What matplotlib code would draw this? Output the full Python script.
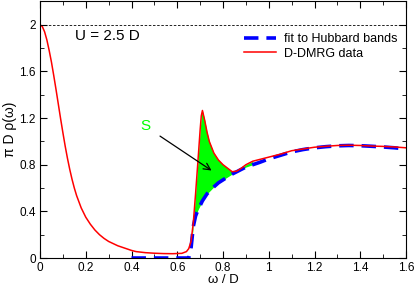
import matplotlib
matplotlib.use('Agg')
import matplotlib.pyplot as plt
import numpy as np
from matplotlib.ticker import MultipleLocator, FuncFormatter

plt.rcParams['font.family'] = ['Liberation Sans', 'DejaVu Sans']

# omega / D grid shared by both curves
omega = np.array([0.00, 0.01, 0.02, 0.03, 0.04, 0.05, 0.06, 0.07, 0.08, 0.09,
                  0.10, 0.11, 0.12, 0.13, 0.14, 0.15, 0.16, 0.18, 0.20, 0.22,
                  0.24, 0.26, 0.28, 0.30, 0.34, 0.40, 0.42, 0.46, 0.50, 0.54,
                  0.58, 0.62, 0.64, 0.65, 0.66, 0.67, 0.68, 0.69, 0.70, 0.705,
                  0.71, 0.72, 0.73, 0.74, 0.76, 0.78, 0.80, 0.82, 0.84, 0.86,
                  0.88, 0.90, 0.93, 0.96, 1.00, 1.05, 1.10, 1.15, 1.20, 1.25,
                  1.30, 1.35, 1.40, 1.45, 1.50, 1.55, 1.60])

# D-DMRG data
dmrg = np.array([2.00, 1.985, 1.94, 1.87, 1.78, 1.68, 1.565, 1.445, 1.32, 1.195,
                 1.075, 0.96, 0.855, 0.76, 0.675, 0.60, 0.535, 0.43, 0.35, 0.29,
                 0.24, 0.20, 0.168, 0.142, 0.105, 0.065, 0.055, 0.046, 0.041, 0.038,
                 0.037, 0.040, 0.055, 0.08, 0.14, 0.30, 0.55, 0.82, 1.10, 1.22,
                 1.265, 1.18, 1.08, 1.00, 0.90, 0.84, 0.80, 0.77, 0.74, 0.745,
                 0.77, 0.80, 0.83, 0.845, 0.865, 0.89, 0.92, 0.935, 0.95, 0.958,
                 0.965, 0.967, 0.965, 0.96, 0.957, 0.952, 0.945])

# fit to Hubbard bands (starts at 0.4)
fit = np.array([np.nan] * 25 +
               [0.0, 0.0, 0.0, 0.0, 0.0,
                0.0, 0.0, 0.0, 0.0, 0.08, 0.27, 0.36, 0.41, 0.45, 0.47,
                0.49, 0.52, 0.55, 0.57, 0.61, 0.645, 0.67, 0.695, 0.72, 0.74,
                0.76, 0.78, 0.80, 0.82, 0.85, 0.88, 0.91, 0.93, 0.945, 0.955,
                0.962, 0.965, 0.963, 0.958, 0.952, 0.945, 0.935])

# shaded spectral-weight region S
s_lo, s_hi = 0.655, 0.95

fig = plt.figure(figsize=(4.15, 2.87), dpi=100)
ax = fig.add_axes([0.0964, 0.101, 0.882, 0.894])

sel = (omega >= s_lo) & (omega <= s_hi)
ax.fill_between(omega[sel], fit[sel], dmrg[sel],
                where=dmrg[sel] > fit[sel], color='#00ff00', lw=0, interpolate=True)
ax.plot(omega, fit, color='blue', lw=2.6, dashes=(4, 2.2), label='fit to Hubbard bands')
ax.plot(omega, dmrg, color='red', lw=1.1, label='D-DMRG data')
ax.axhline(2.0, color='black', lw=0.6, ls=(0, (3, 2)))

ax.text(0.153, 1.9, 'U = 2.5 D', fontsize=11, va='center', ha='left')
ax.annotate('S', xy=(0.75, 0.75), xytext=(0.46, 1.13), color='#00ff00', fontsize=11,
            va='center', ha='center',
            arrowprops=dict(arrowstyle='->', color='black', lw=0.9,
                            shrinkA=6, shrinkB=0, mutation_scale=12))

ax.set_xlim(0, 1.6)
ax.set_ylim(0, 2.2)
ax.xaxis.set_major_locator(MultipleLocator(0.2))
ax.xaxis.set_minor_locator(MultipleLocator(0.1))
ax.yaxis.set_major_locator(MultipleLocator(0.4))
ax.yaxis.set_minor_locator(MultipleLocator(0.2))
ax.tick_params(which='both', direction='in', top=True, right=True, labelsize=8.5, pad=3)
ax.tick_params(which='major', length=5)
ax.tick_params(which='minor', length=3)
ax.xaxis.set_major_formatter(FuncFormatter(lambda v, p: '%g' % round(v, 1)))
ax.yaxis.set_major_formatter(FuncFormatter(lambda v, p: '%g' % round(v, 1)))
ax.set_xlabel('ω / D', fontsize=9.5, labelpad=0)
ax.set_ylabel('π D ρ(ω)', fontsize=10, labelpad=2)

ax.legend(loc='upper right', bbox_to_anchor=(1.0, 0.91), frameon=False, fontsize=9,
          handlelength=2.6, handletextpad=0.6, labelspacing=0.2, borderaxespad=0.3)

fig.savefig('out.png', dpi=100)
